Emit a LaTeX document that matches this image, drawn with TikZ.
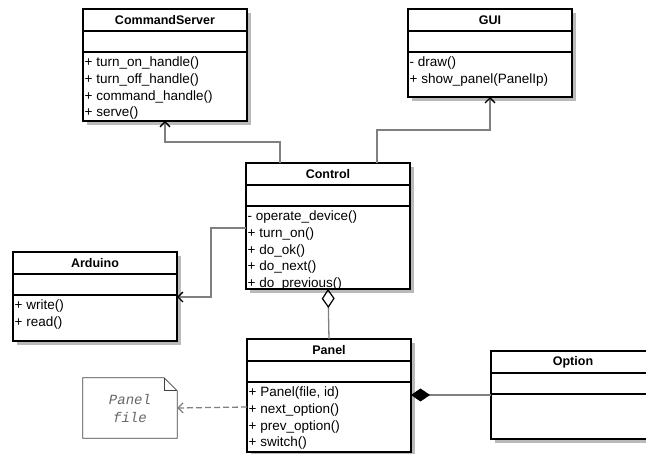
\documentclass[tikz,border=0pt]{standalone}
\usepackage{fontspec}
\setmainfont{Liberation Sans}
\setmonofont{Liberation Mono}
\usetikzlibrary{arrows.meta,positioning,backgrounds}

\begin{document}
\begin{tikzpicture}[x=1pt,y=-1pt,
        umlbox/.style={draw=black, line width=1.2pt, fill=white, outer sep=0pt, inner sep=0pt,
            minimum width=164pt},
        umlhead/.style={umlbox, anchor=north west, minimum height=22pt,
            font={\fontsize{12.5}{15}\selectfont\bfseries}},
        umlattr/.style={umlbox, minimum height=21pt},
        opstext/.style={align=left, anchor=north west, inner xsep=1.5pt, inner ysep=4.5pt,
            font={\fontsize{13.5}{16.8}\selectfont}},
        umlshadow/.style={fill=black!27},
        link/.style={draw=gray, line width=1.3pt},
        barb/.style={-{Straight Barb[length=5pt, width=10pt, line width=1.3pt, color=black]}}
    ]
    \useasboundingbox (0,0) rectangle (646,454);

    % CommandServer
    \node[umlhead] (cs) at (83,9) {CommandServer};
    \node[umlattr, below=0pt of cs] (csA) {};
    \node[umlbox, minimum height=69pt, below=0pt of csA] (csO) {};
    \node[opstext] at (csO.north west) {+ turn\_on\_handle()\\+ turn\_off\_handle()\\+ command\_handle()\\+ serve()};

    % GUI
    \node[umlhead] (gui) at (408,9) {GUI};
    \node[umlattr, below=0pt of gui] (guiA) {};
    \node[umlbox, minimum height=45pt, below=0pt of guiA] (guiO) {};
    \node[opstext] at (guiO.north west) {- draw()\\+ show\_panel(PanelIp)};

    % Control
    \node[umlhead] (ctl) at (246,163) {Control};
    \node[umlattr, below=0pt of ctl] (ctlA) {};
    \node[umlbox, minimum height=83pt, below=0pt of ctlA] (ctlO) {};
    \node[opstext] at (ctlO.north west) {- operate\_device()\\+ turn\_on()\\+ do\_ok()\\+ do\_next()\\+ do\_previous()};

    % Arduino
    \node[umlhead] (ard) at (13,252) {Arduino};
    \node[umlattr, below=0pt of ard] (ardA) {};
    \node[umlbox, minimum height=46pt, below=0pt of ardA] (ardO) {};
    \node[opstext] at (ardO.north west) {+ write()\\+ read()};

    % Panel
    \node[umlhead] (pnl) at (247,339) {Panel};
    \node[umlattr, below=0pt of pnl] (pnlA) {};
    \node[umlbox, minimum height=70pt, below=0pt of pnlA] (pnlO) {};
    \node[opstext] at (pnlO.north west) {+ Panel(file, id)\\+ next\_option()\\+ prev\_option()\\+ switch()};

    % Option
    \node[umlhead] (opt) at (491,351) {Option};
    \node[umlattr, below=0pt of opt] (optA) {};
    \node[umlbox, minimum height=45pt, below=0pt of optA] (optO) {};

    % shadows
    \begin{scope}[on background layer]
        \foreach \top/\bot in {cs/csO, gui/guiO, ctl/ctlO, ard/ardO, pnl/pnlO, opt/optO}
            \fill[umlshadow] ([shift={(4pt,-4pt)}]\top.north west) rectangle ([shift={(4pt,-4pt)}]\bot.south east);
    \end{scope}

    % note
    \node[minimum width=94pt, minimum height=60pt, align=center, text=black!60,
        font={\fontsize{14}{18}\selectfont\ttfamily\itshape}] (note) at (130,408) {Panel\\file};
    \draw[draw=black!75, line width=0.7pt] (note.north west) -- ([xshift=-13pt]note.north east)
        -- ([yshift=-13pt]note.north east) -- (note.south east) -- (note.south west) -- cycle;
    \draw[draw=black!75, line width=0.7pt] ([xshift=-13pt]note.north east)
        |- ([yshift=-13pt]note.north east);

    % connectors
    \draw[link, barb] ([xshift=34pt]ctl.north west) |- ([yshift=-21pt]csO.south) -- (csO.south);
    \draw[link, barb] ([xshift=-33pt]ctl.north east) |- ([yshift=-33pt]guiO.south) -- (guiO.south);
    \draw[link, barb] ([yshift=-22pt]ctlO.north west) -- ++(-35,0) |- ([yshift=-2pt]ardO.north east);
    \draw[link, {Diamond[open, length=19pt, width=13pt, line width=1.2pt, color=black]}-]
        (ctlO.south) -- (pnl.north);
    \draw[link, {Diamond[length=19pt, width=13pt, color=black]}-]
        ([yshift=-13pt]pnlO.north east) -- ([yshift=-1pt]optO.north west);
    \draw[link, dash pattern=on 6pt off 3pt, -{Straight Barb[length=5pt, width=10pt, line width=1.3pt]}]
        ([yshift=-25pt]pnlO.north west) -- (note.east);
\end{tikzpicture}
\end{document}
